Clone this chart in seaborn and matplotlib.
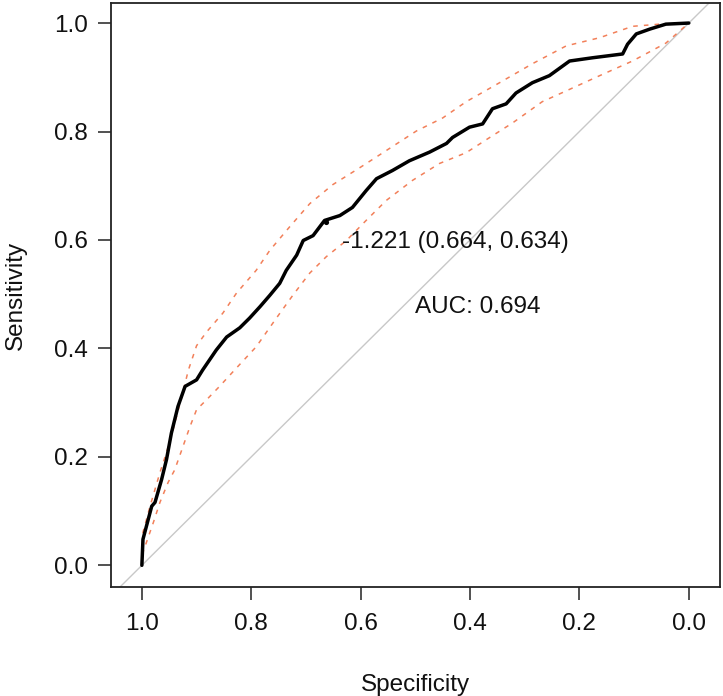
import numpy as np
import pandas as pd
import matplotlib
matplotlib.use("Agg")
import matplotlib.pyplot as plt
import seaborn as sns

# ROC curve (specificity, sensitivity)
roc_spec = [1.000, 0.998, 0.982, 0.976, 0.964, 0.955, 0.946, 0.934, 0.921, 0.900,
            0.889, 0.864, 0.845, 0.821, 0.803, 0.784, 0.766, 0.748, 0.736, 0.717,
            0.705, 0.687, 0.666, 0.638, 0.615, 0.590, 0.571, 0.542, 0.511, 0.474,
            0.443, 0.432, 0.401, 0.377, 0.359, 0.334, 0.316, 0.286, 0.255, 0.218,
            0.176, 0.121, 0.112, 0.096, 0.071, 0.042, 0.000]
roc_sens = [0.000, 0.048, 0.109, 0.116, 0.158, 0.195, 0.244, 0.293, 0.330, 0.342,
            0.360, 0.397, 0.421, 0.438, 0.456, 0.477, 0.498, 0.520, 0.544, 0.572,
            0.599, 0.608, 0.636, 0.645, 0.660, 0.691, 0.713, 0.728, 0.746, 0.762,
            0.778, 0.789, 0.808, 0.814, 0.842, 0.851, 0.871, 0.890, 0.903, 0.930,
            0.936, 0.943, 0.961, 0.980, 0.989, 0.998, 1.000]

# Upper confidence band
ci_up_spec = [1.000, 0.998, 0.985, 0.967, 0.955, 0.943, 0.927, 0.915, 0.900, 0.882,
              0.852, 0.827, 0.791, 0.766, 0.730, 0.693, 0.651, 0.602, 0.553, 0.498,
              0.450, 0.407, 0.346, 0.286, 0.224, 0.163, 0.103, 0.053, 0.000]
ci_up_sens = [0.000, 0.061, 0.109, 0.171, 0.208, 0.250, 0.311, 0.360, 0.405, 0.430,
              0.465, 0.502, 0.544, 0.581, 0.624, 0.667, 0.702, 0.733, 0.765, 0.801,
              0.825, 0.855, 0.890, 0.925, 0.958, 0.973, 0.994, 0.998, 1.000]

# Lower confidence band
ci_lo_spec = [1.000, 0.998, 0.979, 0.967, 0.952, 0.940, 0.927, 0.912, 0.900, 0.882,
              0.858, 0.827, 0.791, 0.754, 0.724, 0.693, 0.663, 0.626, 0.590, 0.553,
              0.505, 0.456, 0.407, 0.364, 0.322, 0.268, 0.224, 0.163, 0.103, 0.042,
              0.000]
ci_lo_sens = [0.000, 0.024, 0.079, 0.116, 0.153, 0.176, 0.213, 0.256, 0.287, 0.305,
              0.330, 0.364, 0.403, 0.456, 0.498, 0.539, 0.569, 0.599, 0.636, 0.673,
              0.710, 0.741, 0.761, 0.789, 0.816, 0.855, 0.875, 0.903, 0.930, 0.963,
              1.000]

best_thr_label = "-1.221 (0.664, 0.634)"
best_spec = [0.664]
best_sens = [0.634]
auc_label = "AUC: 0.694"
diag_spec = [1.06, -0.06]
diag_sens = [-0.06, 1.06]
x_ticks = [1.0, 0.8, 0.6, 0.4, 0.2, 0.0]
y_ticks = [0.0, 0.2, 0.4, 0.6, 0.8, 1.0]

sns.set_style("white")
plt.rcParams['font.family'] = ['Liberation Sans', 'DejaVu Sans']
FS = 17.5

fig = plt.figure(figsize=(7.23, 6.96), dpi=100)
ax = fig.add_axes([110.7 / 723, 1 - 587 / 696, (720 - 110.7) / 723, 584 / 696])

roc_df = pd.DataFrame({"spec": roc_spec, "sens": roc_sens})
up_df = pd.DataFrame({"spec": ci_up_spec, "sens": ci_up_sens})
lo_df = pd.DataFrame({"spec": ci_lo_spec, "sens": ci_lo_sens})
diag_df = pd.DataFrame({"spec": diag_spec, "sens": diag_sens})

sns.lineplot(data=diag_df, x="spec", y="sens", sort=False, estimator=None,
             color="#c8c8c8", linewidth=1.0, ax=ax)
for d in (up_df, lo_df):
    sns.lineplot(data=d, x="spec", y="sens", sort=False, estimator=None,
                 color="#f2805a", linewidth=1.1, dashes=False, ax=ax,
                 linestyle=(0, (3.0, 4.0)))
sns.lineplot(data=roc_df, x="spec", y="sens", sort=False, estimator=None,
             color="black", linewidth=2.5, ax=ax)
sns.scatterplot(x=best_spec, y=best_sens, color="black", s=14, linewidth=0, ax=ax)

ax.text(best_spec[0] - 0.03, best_sens[0] - 0.017, best_thr_label, fontsize=FS,
        ha="left", va="top", color="#111111")
ax.text(0.5, 0.497, auc_label, fontsize=FS, ha="left", va="top", color="#111111")

ax.set_xlim(1.057, -0.057)
ax.set_ylim(-0.04, 1.037)
ax.set_xticks(x_ticks)
ax.set_xticklabels([f"{v:.1f}" for v in x_ticks])
ax.set_yticks(y_ticks)
ax.set_yticklabels([f"{v:.1f}" for v in y_ticks])
ax.tick_params(axis="both", which="both", direction="out", length=9.5, width=1.1,
               color="#222222", labelsize=FS, labelcolor="#111111",
               bottom=True, left=True)
ax.tick_params(axis="x", pad=9)
ax.tick_params(axis="y", pad=7)
for s in ax.spines.values():
    s.set_visible(True)
    s.set_color("#222222")
    s.set_linewidth(1.3)
ax.set_xlabel("Specificity", fontsize=FS, labelpad=28, color="#111111")
ax.set_ylabel("Sensitivity", fontsize=FS, labelpad=19, color="#111111")
ax.grid(False)

fig.savefig("out.png", dpi=100)
